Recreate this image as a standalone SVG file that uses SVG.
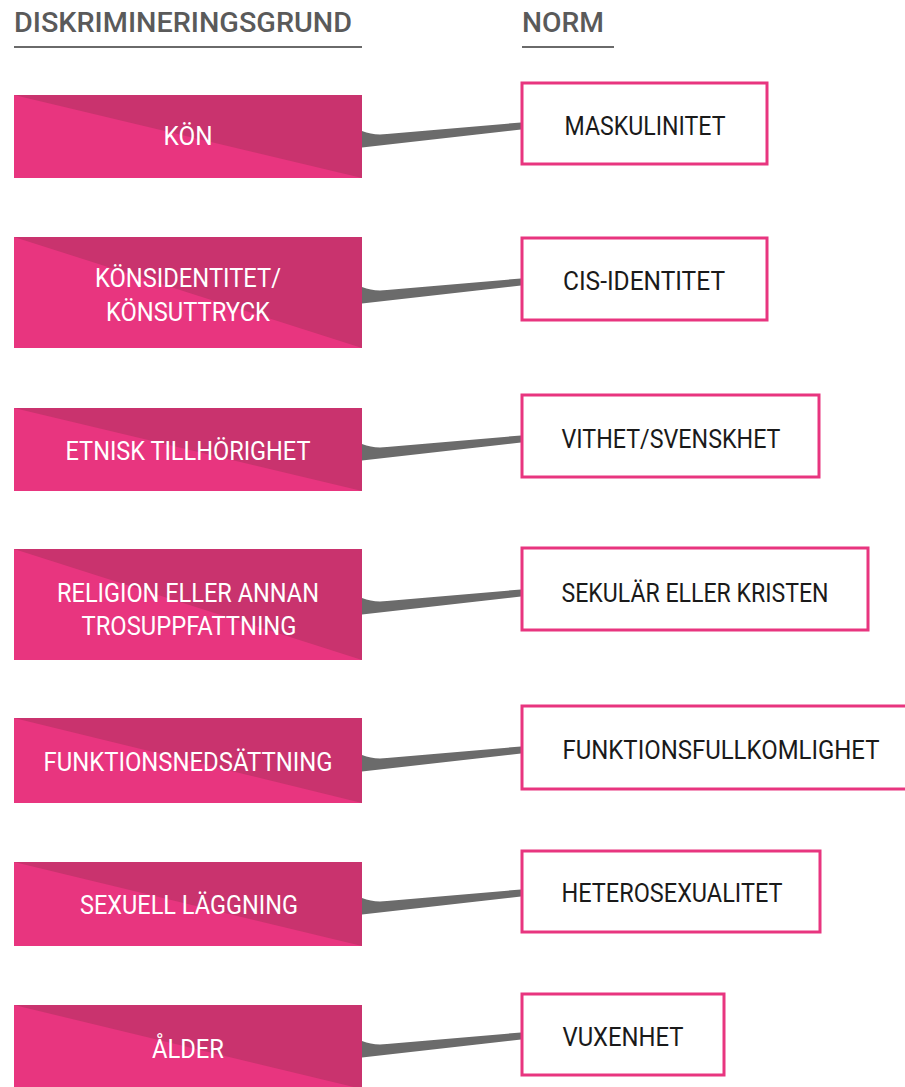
<svg xmlns="http://www.w3.org/2000/svg" width="905" height="1087" viewBox="0 0 905 1087">
<style>
.hd{font-family:Roboto,"Liberation Sans",sans-serif;font-size:27px;font-weight:500;fill:#5a5a5a}
.lt{font-family:Roboto,"Liberation Sans",sans-serif;font-size:26px;font-weight:400;fill:#ffffff}
.rt{font-family:Roboto,"Liberation Sans",sans-serif;font-size:26px;font-weight:400;fill:#1a1a1a}
.lo{fill:#E8357F}
.hi{fill:#C9336E}
.rb{fill:#ffffff;stroke:#E8357F;stroke-width:3}
.cn{fill:#6b6b6b}
.ul{stroke:#6a6a6a;stroke-width:2}
</style>
<defs>
<path id="conn" d="M0,-6 C8,-3 15,-2 25,-3 L159,-14.5 L159,-7.5 L0,10.5 Z"/>
</defs>
<g id="headers">
<text class="hd" x="14" y="32" textLength="338" lengthAdjust="spacingAndGlyphs">DISKRIMINERINGSGRUND</text>
<line class="ul" x1="14" y1="47" x2="362" y2="47"/>
<text class="hd" x="522" y="32" textLength="82" lengthAdjust="spacingAndGlyphs">NORM</text>
<line class="ul" x1="522" y1="47" x2="614" y2="47"/>
</g>
<g id="connectors">
<use href="#conn" class="cn" transform="translate(362,137)"/>
<use href="#conn" class="cn" transform="translate(362,293)"/>
<use href="#conn" class="cn" transform="translate(362,450)"/>
<use href="#conn" class="cn" transform="translate(362,604)"/>
<use href="#conn" class="cn" transform="translate(362,761)"/>
<use href="#conn" class="cn" transform="translate(362,904)"/>
<use href="#conn" class="cn" transform="translate(362,1047)"/>
</g>
<g id="left-kon">
<rect class="lo" x="14" y="95" width="348" height="83"/>
<polygon class="hi" points="14,95 362,95 362,178"/>
<text class="lt" x="188" y="145" text-anchor="middle" textLength="49" lengthAdjust="spacingAndGlyphs">KÖN</text>
</g>
<g id="left-konsidentitet">
<rect class="lo" x="14" y="237" width="348" height="111"/>
<polygon class="hi" points="14,237 362,237 362,348"/>
<text class="lt" x="188" y="287" text-anchor="middle" textLength="186" lengthAdjust="spacingAndGlyphs">KÖNSIDENTITET/</text>
<text class="lt" x="188" y="321" text-anchor="middle" textLength="164" lengthAdjust="spacingAndGlyphs">KÖNSUTTRYCK</text>
</g>
<g id="left-etnisk">
<rect class="lo" x="14" y="408" width="348" height="83"/>
<polygon class="hi" points="14,408 362,408 362,491"/>
<text class="lt" x="188" y="460" text-anchor="middle" textLength="245" lengthAdjust="spacingAndGlyphs">ETNISK TILLHÖRIGHET</text>
</g>
<g id="left-religion">
<rect class="lo" x="14" y="549" width="348" height="111"/>
<polygon class="hi" points="14,549 362,549 362,660"/>
<text class="lt" x="188" y="602" text-anchor="middle" textLength="262" lengthAdjust="spacingAndGlyphs">RELIGION ELLER ANNAN</text>
<text class="lt" x="189" y="635" text-anchor="middle" textLength="215" lengthAdjust="spacingAndGlyphs">TROSUPPFATTNING</text>
</g>
<g id="left-funktion">
<rect class="lo" x="14" y="718" width="348" height="85"/>
<polygon class="hi" points="14,718 362,718 362,803"/>
<text class="lt" x="188" y="771" text-anchor="middle" textLength="289" lengthAdjust="spacingAndGlyphs">FUNKTIONSNEDSÄTTNING</text>
</g>
<g id="left-sexuell">
<rect class="lo" x="14" y="862" width="348" height="84"/>
<polygon class="hi" points="14,862 362,862 362,946"/>
<text class="lt" x="189" y="914" text-anchor="middle" textLength="218" lengthAdjust="spacingAndGlyphs">SEXUELL LÄGGNING</text>
</g>
<g id="left-alder">
<rect class="lo" x="14" y="1005" width="348" height="84"/>
<polygon class="hi" points="14,1005 362,1005 362,1089"/>
<text class="lt" x="188" y="1058" text-anchor="middle" textLength="72" lengthAdjust="spacingAndGlyphs">ÅLDER</text>
</g>
<g id="right-maskulinitet">
<rect class="rb" x="522" y="83" width="245" height="81"/>
<text class="rt" x="645" y="135" text-anchor="middle" textLength="161" lengthAdjust="spacingAndGlyphs">MASKULINITET</text>
</g>
<g id="right-cis">
<rect class="rb" x="522" y="238" width="245" height="82"/>
<text class="rt" x="644" y="290" text-anchor="middle" textLength="162" lengthAdjust="spacingAndGlyphs">CIS-IDENTITET</text>
</g>
<g id="right-vithet">
<rect class="rb" x="522" y="395" width="297" height="82"/>
<text class="rt" x="671" y="448" text-anchor="middle" textLength="219" lengthAdjust="spacingAndGlyphs">VITHET/SVENSKHET</text>
</g>
<g id="right-sekular">
<rect class="rb" x="522" y="548" width="346" height="82"/>
<text class="rt" x="695" y="602" text-anchor="middle" textLength="267" lengthAdjust="spacingAndGlyphs">SEKULÄR ELLER KRISTEN</text>
</g>
<g id="right-funktionsfull">
<rect class="rb" x="522" y="706" width="400" height="83"/>
<text class="rt" x="721" y="759" text-anchor="middle" textLength="317" lengthAdjust="spacingAndGlyphs">FUNKTIONSFULLKOMLIGHET</text>
</g>
<g id="right-hetero">
<rect class="rb" x="522" y="851" width="298" height="81"/>
<text class="rt" x="672" y="902" text-anchor="middle" textLength="221" lengthAdjust="spacingAndGlyphs">HETEROSEXUALITET</text>
</g>
<g id="right-vuxenhet">
<rect class="rb" x="522" y="994" width="202" height="81"/>
<text class="rt" x="623" y="1046" text-anchor="middle" textLength="121" lengthAdjust="spacingAndGlyphs">VUXENHET</text>
</g>
</svg>
